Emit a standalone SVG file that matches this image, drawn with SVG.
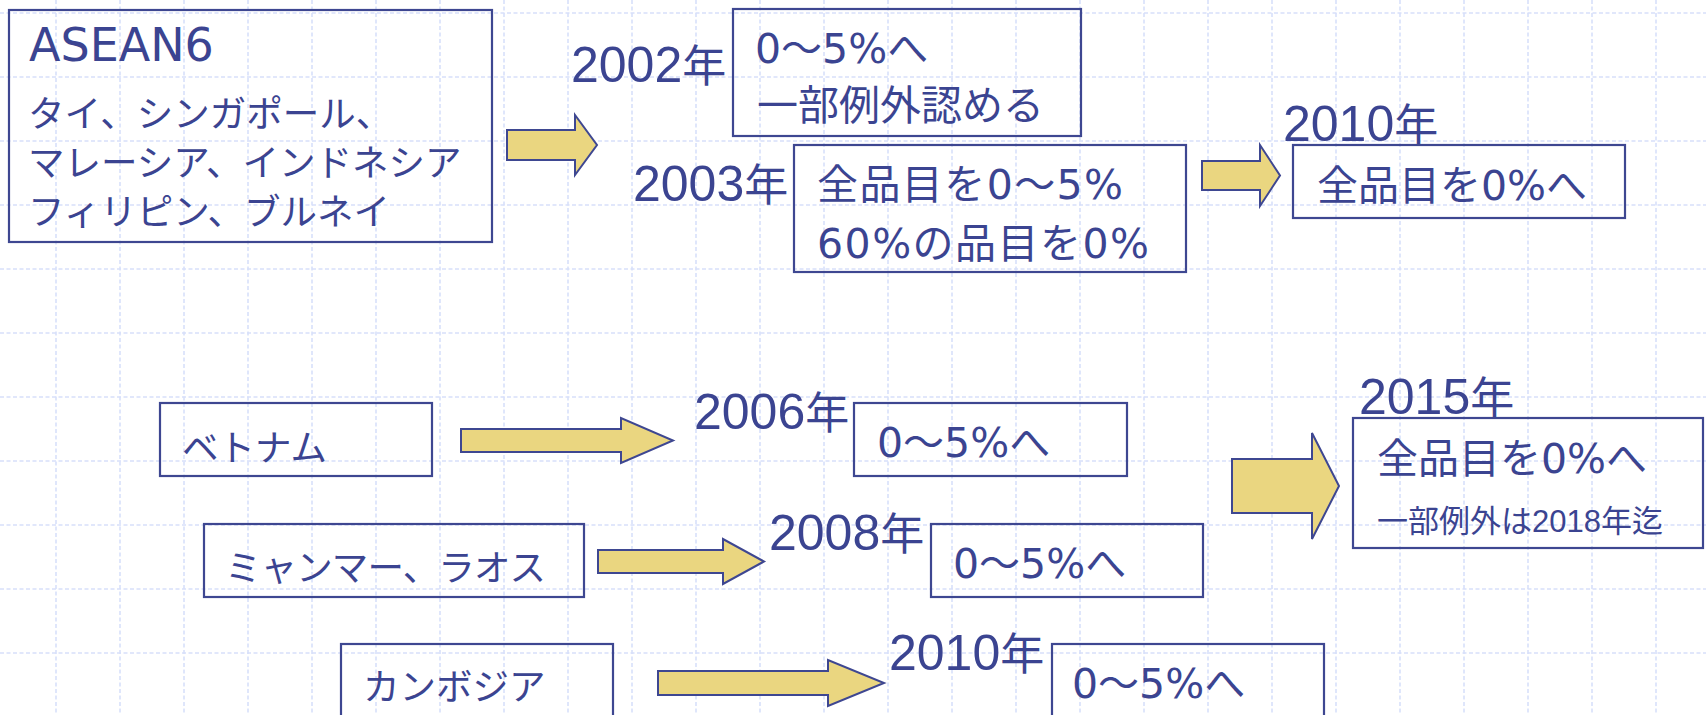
<svg xmlns="http://www.w3.org/2000/svg" width="1706" height="715" viewBox="0 0 1706 715">
<defs>
<style>
.grid line{stroke:#d8e0fa;stroke-width:1.6;stroke-dasharray:4 2.5}
.box{fill:none;stroke:#3e4791;stroke-width:2.2}
.arr{fill:#ead680;stroke:#3e4791;stroke-width:2;stroke-linejoin:miter}
.t{fill:#3b4491;font-family:"DejaVu Sans","Noto Sans CJK JP",sans-serif;font-size:41px}
.jp{fill:#3b4491;font-family:"DejaVu Sans","Noto Sans CJK JP",sans-serif;font-size:36.5px}
.yr{fill:#3b4491;font-family:"Liberation Sans","Noto Sans CJK JP",sans-serif;font-size:50px}
.yr tspan{font-size:44px}
.sm{fill:#3b4491;font-family:"Liberation Sans","Noto Sans CJK JP",sans-serif;font-size:31px}
</style>
</defs>
<rect width="1706" height="715" fill="#ffffff"/>
<g class="grid" id="grid">
<line x1="56" y1="0" x2="56" y2="715"/><line x1="120" y1="0" x2="120" y2="715"/><line x1="184" y1="0" x2="184" y2="715"/><line x1="248" y1="0" x2="248" y2="715"/><line x1="312" y1="0" x2="312" y2="715"/><line x1="376" y1="0" x2="376" y2="715"/><line x1="440" y1="0" x2="440" y2="715"/><line x1="504" y1="0" x2="504" y2="715"/><line x1="568" y1="0" x2="568" y2="715"/><line x1="632" y1="0" x2="632" y2="715"/><line x1="696" y1="0" x2="696" y2="715"/><line x1="760" y1="0" x2="760" y2="715"/><line x1="824" y1="0" x2="824" y2="715"/><line x1="888" y1="0" x2="888" y2="715"/><line x1="952" y1="0" x2="952" y2="715"/><line x1="1016" y1="0" x2="1016" y2="715"/><line x1="1080" y1="0" x2="1080" y2="715"/><line x1="1144" y1="0" x2="1144" y2="715"/><line x1="1208" y1="0" x2="1208" y2="715"/><line x1="1272" y1="0" x2="1272" y2="715"/><line x1="1336" y1="0" x2="1336" y2="715"/><line x1="1400" y1="0" x2="1400" y2="715"/><line x1="1464" y1="0" x2="1464" y2="715"/><line x1="1528" y1="0" x2="1528" y2="715"/><line x1="1592" y1="0" x2="1592" y2="715"/><line x1="1656" y1="0" x2="1656" y2="715"/>
<line x1="0" y1="13" x2="1706" y2="13"/><line x1="0" y1="77" x2="1706" y2="77"/><line x1="0" y1="141" x2="1706" y2="141"/><line x1="0" y1="205" x2="1706" y2="205"/><line x1="0" y1="269" x2="1706" y2="269"/><line x1="0" y1="333" x2="1706" y2="333"/><line x1="0" y1="397" x2="1706" y2="397"/><line x1="0" y1="461" x2="1706" y2="461"/><line x1="0" y1="525" x2="1706" y2="525"/><line x1="0" y1="589" x2="1706" y2="589"/><line x1="0" y1="653" x2="1706" y2="653"/>
</g>
<g id="connectors">
<polygon class="arr" points="507,130 575,130 575,115 597,145 575,175 575,160 507,160"/>
<polygon class="arr" points="1202,161 1260,161 1260,145 1280,175.5 1260,206 1260,190 1202,190"/>
<polygon class="arr" points="461,429 621,429 621,418 673,440.5 621,463 621,452 461,452"/>
<polygon class="arr" points="598,550 723,550 723,539 764,561.5 723,584 723,573 598,573"/>
<polygon class="arr" points="1232,459 1312,459 1312,433 1339,486 1312,539 1312,513 1232,513"/>
<polygon class="arr" points="658,671 828,671 828,660 884,683 828,706 828,695 658,695"/>
</g>
<g id="asean6">
<rect class="box" x="9" y="10" width="483" height="232"/>
<text class="t" x="29" y="61" style="font-size:46px">ASEAN6</text>
<text class="jp" x="28" y="127">タイ、シンガポール、</text>
<text class="jp" x="28" y="176">マレーシア、インドネシア</text>
<text class="jp" x="28" y="225">フィリピン、ブルネイ</text>
</g>
<g id="y2002">
<text class="yr" x="571" y="82">2002<tspan>年</tspan></text>
</g>
<g id="box2002">
<rect class="box" x="733" y="9" width="348" height="127"/>
<text class="t" x="755" y="63">0～5%へ</text>
<text class="t" x="757" y="120">一部例外認める</text>
</g>
<g id="y2003">
<text class="yr" x="633" y="201">2003<tspan>年</tspan></text>
</g>
<g id="box2003">
<rect class="box" x="794" y="145" width="392" height="127"/>
<text class="t" x="817" y="199" textLength="306" lengthAdjust="spacing">全品目を0～5%</text>
<text class="t" x="817" y="258" textLength="332" lengthAdjust="spacing">60%の品目を0%</text>
</g>
<g id="y2010a">
<text class="yr" x="1283" y="141">2010<tspan>年</tspan></text>
</g>
<g id="box2010a">
<rect class="box" x="1293" y="145" width="332" height="73"/>
<text class="t" x="1317" y="200">全品目を0%へ</text>
</g>
<g id="vietnam">
<rect class="box" x="160" y="403" width="272" height="73"/>
<text class="jp" x="182" y="461">ベトナム</text>
</g>
<g id="y2006">
<text class="yr" x="694" y="429">2006<tspan>年</tspan></text>
</g>
<g id="box2006">
<rect class="box" x="854" y="403" width="273" height="73"/>
<text class="t" x="877" y="457">0～5%へ</text>
</g>
<g id="myanmar">
<rect class="box" x="204" y="524" width="380" height="73"/>
<text class="jp" x="225" y="581" textLength="321" lengthAdjust="spacing">ミャンマー、ラオス</text>
</g>
<g id="y2008">
<text class="yr" x="769" y="550">2008<tspan>年</tspan></text>
</g>
<g id="box2008">
<rect class="box" x="931" y="524" width="272" height="73"/>
<text class="t" x="953" y="578">0～5%へ</text>
</g>
<g id="y2015">
<text class="yr" x="1359" y="414">2015<tspan>年</tspan></text>
</g>
<g id="box2015">
<rect class="box" x="1353" y="418" width="350" height="130"/>
<text class="t" x="1377" y="473">全品目を0%へ</text>
<text class="sm" x="1377" y="532">一部例外は2018年迄</text>
</g>
<g id="cambodia">
<rect class="box" x="341" y="644" width="272" height="80"/>
<text class="jp" x="363" y="700">カンボジア</text>
</g>
<g id="y2010b">
<text class="yr" x="889" y="670">2010<tspan>年</tspan></text>
</g>
<g id="box2010b">
<rect class="box" x="1052" y="644" width="272" height="80"/>
<text class="t" x="1072" y="698">0～5%へ</text>
</g>
</svg>
